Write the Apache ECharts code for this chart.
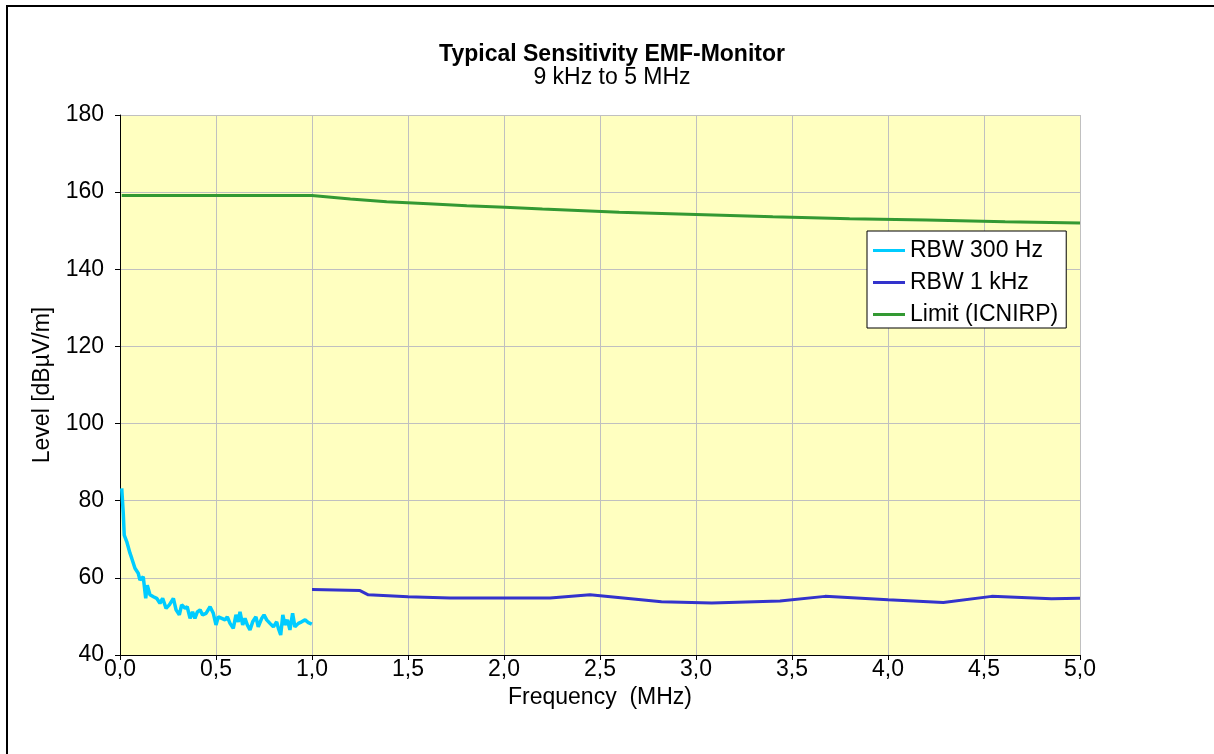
<!DOCTYPE html>
<html><head><meta charset="utf-8">
<script src="https://cdn.jsdelivr.net/npm/echarts@6/dist/echarts.min.js"></script>
<style>html,body{margin:0;padding:0;background:#fff;}#c{width:1214px;height:754px;}</style>
</head><body><div id="c"></div>
<script>
// RBW 300 Hz: [frequency MHz, level dBµV/m]
const rbw300 = [
[0.009,83.2],[0.017,76.7],[0.022,71.1],[0.035,69.4],[0.052,66.4],[0.061,65.1],[0.078,62.5],
[0.095,61.2],[0.104,59.4],[0.121,60.3],[0.134,54.7],[0.142,58.1],[0.156,55.6],[0.174,55.1],
[0.191,54.7],[0.208,53.4],[0.222,54.7],[0.240,52.1],[0.257,53.0],[0.278,54.7],[0.292,51.7],
[0.309,50.4],[0.321,53.0],[0.339,52.1],[0.350,52.5],[0.365,49.5],[0.378,51.2],[0.390,49.5],
[0.403,51.2],[0.417,51.7],[0.430,50.4],[0.448,50.8],[0.469,52.5],[0.486,50.8],[0.500,47.8],
[0.512,49.9],[0.530,49.5],[0.547,49.1],[0.559,49.9],[0.573,48.2],[0.590,46.9],[0.604,50.4],
[0.616,48.6],[0.625,51.2],[0.639,47.8],[0.651,49.5],[0.663,47.8],[0.677,46.5],[0.691,48.6],
[0.708,49.9],[0.720,47.3],[0.738,49.5],[0.750,50.4],[0.764,49.1],[0.781,48.2],[0.799,47.3],
[0.816,48.6],[0.825,46.9],[0.837,45.2],[0.848,50.4],[0.859,47.8],[0.872,49.1],[0.885,46.5],
[0.899,50.8],[0.911,47.3],[0.929,48.2],[0.946,48.6],[0.964,49.1],[0.981,48.4],[0.999,48.0]
];
// RBW 1 kHz
const rbw1k = [
[1.0,57.0],[1.25,56.7],[1.293,55.6],[1.5,55.1],[1.719,54.8],[1.91,54.8],[2.24,54.8],
[2.448,55.6],[2.82,53.8],[3.082,53.5],[3.4375,54.0],[3.672,55.2],[4.0,54.3],[4.288,53.6],
[4.54,55.2],[4.852,54.6],[5.0,54.7]
];
// Limit (ICNIRP)
const limit = [
[0.009,159.1],[1.0,159.1],[1.2,158.2],[1.389,157.5],[1.606,157.0],[1.806,156.5],[2.005,156.1],
[2.2,155.6],[2.6,154.8],[3.0,154.2],[3.4,153.6],[3.8,153.1],[4.2,152.8],[4.61,152.3],[5.0,152.0]
];
const seriesNames = ['RBW 300 Hz','RBW 1 kHz','Limit (ICNIRP)'];
const titleText = 'Typical Sensitivity EMF-Monitor';
const subtitleText = '9 kHz to 5 MHz';
const xName = 'Frequency  (MHz)';
const yName = 'Level [dBµV/m]';

const FONT = 'Liberation Sans, Arial, sans-serif';
const FS = 23;
const chart = echarts.init(document.getElementById('c'), null, {renderer:'canvas'});
chart.setOption({
  animation:false,
  backgroundColor:'#ffffff',
  textStyle:{fontFamily:FONT},
  title:{
    text:titleText, subtext:subtitleText, left:607, textAlign:'center', top:38,
    textStyle:{fontFamily:FONT,fontSize:FS,fontWeight:'bold',color:'#000',lineHeight:23},
    subtextStyle:{fontFamily:FONT,fontSize:FS,color:'#000',lineHeight:23}, itemGap:0
  },
  graphic:[{type:'rect',shape:{x:7,y:6,width:1230,height:780},style:{fill:null,stroke:'#000',lineWidth:2},silent:true}],
  grid:{left:120,top:115,width:960,height:540,show:true,backgroundColor:'#FFFFC0',borderWidth:0},
  legend:{
    orient:'vertical', left:867, top:231, data:seriesNames,
    backgroundColor:'#ffffff', borderColor:'#000', borderWidth:1,
    padding:[8,8,2,6], itemGap:9, itemWidth:32, itemHeight:3, icon:'rect',
    textStyle:{fontFamily:FONT,fontSize:FS,color:'#000',lineHeight:23}
  },
  xAxis:{
    type:'value', min:0, max:5, interval:0.5,
    name:xName, nameLocation:'middle', nameGap:30,
    nameTextStyle:{fontFamily:FONT,fontSize:FS,color:'#000'},
    axisLine:{onZero:false,lineStyle:{color:'#000',width:1}},
    axisTick:{show:true,length:5,lineStyle:{color:'#000'}},
    axisLabel:{fontFamily:FONT,fontSize:FS,color:'#000',margin:3,formatter:v=>v.toFixed(1).replace('.',',')},
    splitLine:{show:true,lineStyle:{color:'#C0C0C0',width:1}}
  },
  yAxis:{
    type:'value', min:40, max:180, interval:20,
    name:yName, nameLocation:'middle', nameGap:66,
    nameTextStyle:{fontFamily:FONT,fontSize:FS,color:'#000'},
    axisLine:{show:true,lineStyle:{color:'#000',width:1}},
    axisTick:{show:true,length:5,lineStyle:{color:'#000'}},
    axisLabel:{fontFamily:FONT,fontSize:FS,color:'#000',margin:16},
    splitLine:{show:true,lineStyle:{color:'#C0C0C0',width:1}}
  },
  series:[
    {name:seriesNames[0],type:'line',data:rbw300,showSymbol:false,symbol:'none',lineStyle:{color:'#00CCFF',width:3.5},itemStyle:{color:'#00CCFF'},z:3},
    {name:seriesNames[1],type:'line',data:rbw1k,showSymbol:false,symbol:'none',lineStyle:{color:'#3333CC',width:3},itemStyle:{color:'#3333CC'},z:3},
    {name:seriesNames[2],type:'line',data:limit,showSymbol:false,symbol:'none',lineStyle:{color:'#339933',width:3},itemStyle:{color:'#339933'},z:3}
  ]
});
</script></body></html>
